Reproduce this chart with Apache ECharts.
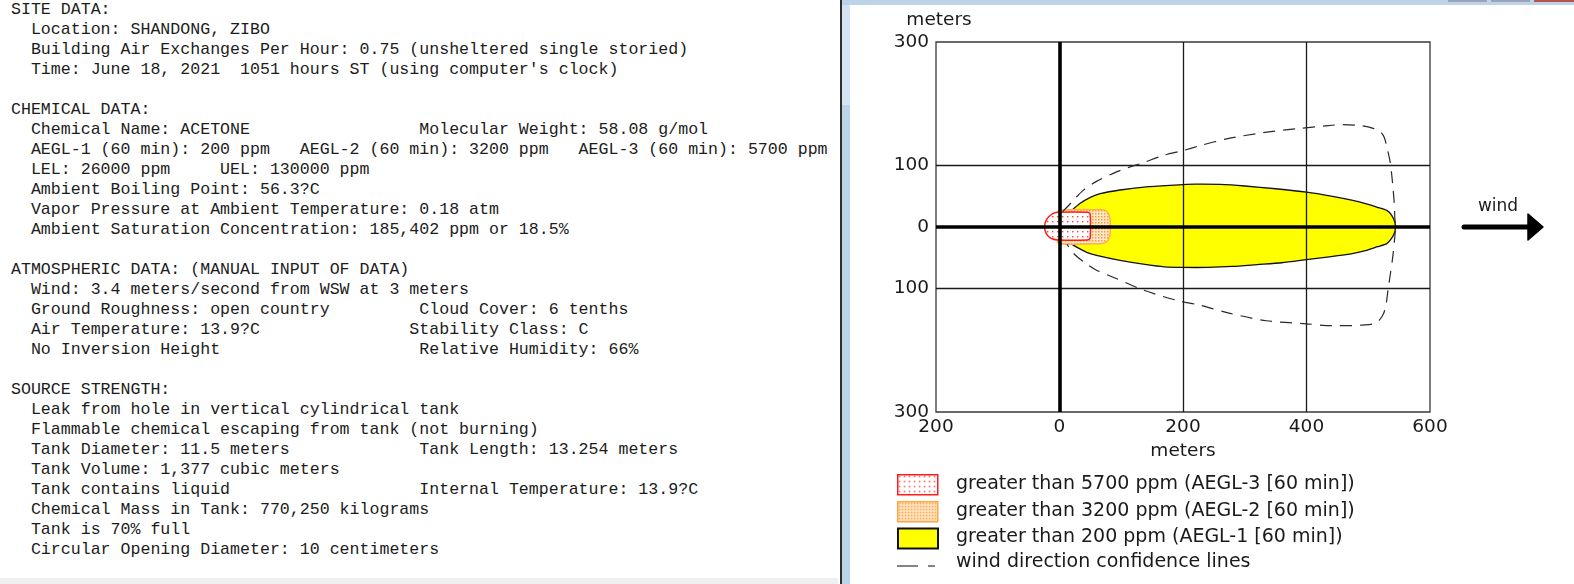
<!DOCTYPE html>
<html><head><meta charset="utf-8">
<script src="https://cdn.jsdelivr.net/npm/echarts@6/dist/echarts.min.js"></script>
<style>
html,body{margin:0;padding:0;width:1574px;height:584px;overflow:hidden;background:#fff;}
#left{position:absolute;left:0;top:0;width:840px;height:584px;background:#fff;overflow:hidden;}
#left pre{position:absolute;left:11px;top:-0.5px;margin:0;font-family:'Liberation Mono','Courier New',monospace;font-size:16.6px;line-height:20px;color:#1c1c1c;}
#lbot{position:absolute;left:0;top:578px;width:838px;height:6px;background:#f0f0f0;}
#divider{position:absolute;left:840px;top:0;width:2px;height:584px;background:#2e2e2e;}
#frameL{position:absolute;left:842px;top:0;width:8px;height:584px;background:#bcd3ea;}
#frameLt{position:absolute;left:842px;top:0;width:8px;height:105px;background:#d4e3f3;}
#frameT{position:absolute;left:842px;top:0;width:732px;height:5px;background:#bcd3ea;}
.btn{position:absolute;top:0;height:2px;}
#chart{position:absolute;left:851px;top:5px;width:723px;height:579px;}
</style></head>
<body>
<div id="left"><pre id="report"></pre><div id="lbot"></div></div>
<div id="divider"></div><div id="frameL"></div><div id="frameLt"></div><div id="frameT"></div>
<div class="btn" style="left:1448px;width:39px;background:#9aa5b3"></div>
<div class="btn" style="left:1491px;width:39px;background:#9aa5b3"></div>
<div class="btn" style="left:1534px;width:40px;background:#b5534c"></div>
<div id="chart"></div>
<script>
// ---------- report text ----------
const REPORT_LINES = [
 ['SITE DATA:'],
 ['  Location: SHANDONG, ZIBO'],
 ['  Building Air Exchanges Per Hour: 0.75 (unsheltered single storied)'],
 ["  Time: June 18, 2021  1051 hours ST (using computer's clock)"],
 [''],
 ['CHEMICAL DATA:'],
 ['  Chemical Name: ACETONE', 41, 'Molecular Weight: 58.08 g/mol'],
 ['  AEGL-1 (60 min): 200 ppm   AEGL-2 (60 min): 3200 ppm   AEGL-3 (60 min): 5700 ppm'],
 ['  LEL: 26000 ppm     UEL: 130000 ppm'],
 ['  Ambient Boiling Point: 56.3?C'],
 ['  Vapor Pressure at Ambient Temperature: 0.18 atm'],
 ['  Ambient Saturation Concentration: 185,402 ppm or 18.5%'],
 [''],
 ['ATMOSPHERIC DATA: (MANUAL INPUT OF DATA)'],
 ['  Wind: 3.4 meters/second from WSW at 3 meters'],
 ['  Ground Roughness: open country', 41, 'Cloud Cover: 6 tenths'],
 ['  Air Temperature: 13.9?C', 40, 'Stability Class: C'],
 ['  No Inversion Height', 41, 'Relative Humidity: 66%'],
 [''],
 ['SOURCE STRENGTH:'],
 ['  Leak from hole in vertical cylindrical tank'],
 ['  Flammable chemical escaping from tank (not burning)'],
 ['  Tank Diameter: 11.5 meters', 41, 'Tank Length: 13.254 meters'],
 ['  Tank Volume: 1,377 cubic meters'],
 ['  Tank contains liquid', 41, 'Internal Temperature: 13.9?C'],
 ['  Chemical Mass in Tank: 770,250 kilograms'],
 ['  Tank is 70% full'],
 ['  Circular Opening Diameter: 10 centimeters']
];
document.getElementById('report').textContent = REPORT_LINES.map(l =>
  l.length === 1 ? l[0] : l[0] + ' '.repeat(Math.max(1, l[1] - l[0].length)) + l[2]).join('\n');

// ---------- chart data (meters) ----------
const X_TICKS = [-200, 0, 200, 400, 600];
const Y_LABELED = [-300, -100, 0, 100, 300];
const GRID_X = [200, 400];
const GRID_Y = [100, -100];

const AEGL1_ZONE = [ // > 200 ppm
 [5,18],[17,25],[33,38],[50,48],[66,54],[98,60],[140,65],[179,67.5],[220,69.5],[260,69],[300,66.5],
 [350,62],[400,56.5],[440,50],[475,43],[497,37.5],[515,32],[530,27],[538,19],[543,8],[544,0],
 [543,-8],[538,-18],[530,-27],[515,-32],[497,-38],[470,-44],[440,-48],[400,-53],[360,-58],[320,-61],
 [280,-64],[240,-65.5],[200,-65.5],[170,-64.5],[141,-61],[98,-54],[60,-46],[44,-41],[25,-31],[10,-22],[5,-18]
];
const AEGL2_ZONE = [ // > 3200 ppm
 [0,27],[66,28],[75,26],[80,20],[82,10],[82,-10],[80,-19],[75,-25],[66,-27],[0,-27],[-4,-20],[-4,20]
];
const AEGL3_ZONE = [ // > 5700 ppm
 [-2,24],[45,24],[49,22],[50,15],[50,-14],[49,-19],[45,-21],[-2,-21],[-12,-19],[-19,-14],
 [-23,-7],[-24,2],[-22,10],[-17,17],[-10,22]
];
const CONFIDENCE_LINE = [
 [5,25],[14,34],[25,46],[38,59],[60,74],[87,87],[110,96],[135,104],[168,116],[200,124],[228,132],
 [271,143],[330,153],[390,160],[430,164],[459,166],[490,164],[508,160],[520,154],[526,145],
 [530,130],[535,108],[538,85],[540,64],[542,40],[543,16],[544,0],
 [543,-16],[540,-46],[536,-75],[532,-102],[529,-125],[525,-140],[518,-151],[508,-157],[490,-159],
 [476,-160],[440,-160],[400,-157],[335,-152],[276,-140],[228,-127],[190,-119],[135,-102],
 [93,-84],[60,-70],[44,-60],[25,-45],[12,-28]
];

// ---------- fill patterns ----------
function makePattern(size, bg, dot, ds) {
  const c = document.createElement('canvas'); c.width = size; c.height = size;
  const g = c.getContext('2d'); g.fillStyle = bg; g.fillRect(0,0,size,size);
  g.fillStyle = dot; g.fillRect(1,1,ds,ds);
  return { image: c, repeat: 'repeat' };
}
const RED_DOTS = makePattern(5, '#ffffff', '#ff4040', 1.4);
const ORANGE_DOTS = makePattern(3, '#ffe9cc', '#ff9933', 1.5);

const FONT = 'DejaVu Sans';
const TXT = '#1a1a1a';

function polySeries(name, data, fill, stroke, lw, z, smooth) {
  return {
    type: 'custom', name, coordinateSystem: 'cartesian2d', z, silent: true, data,
    encode: { x: 0, y: 1 },
    renderItem(params, api) {
      if (params.dataIndex !== 0) return null;
      const pts = data.map(p => api.coord(p));
      return { type: 'polygon', shape: { points: pts, smooth: smooth },
               style: { fill: fill, stroke: stroke, lineWidth: lw } };
    }
  };
}

const chart = echarts.init(document.getElementById('chart'), null, { renderer: 'canvas' });
const LEGEND = [
  { label: 'greater than 5700 ppm (AEGL-3 [60 min])', fill: RED_DOTS, stroke: '#ff1a1a', lw: 1.5 },
  { label: 'greater than 3200 ppm (AEGL-2 [60 min])', fill: ORANGE_DOTS, stroke: '#ffa640', lw: 1.5 },
  { label: 'greater than 200 ppm (AEGL-1 [60 min])', fill: '#ffff00', stroke: '#111', lw: 2 },
  { label: 'wind direction confidence lines' }
];
const LEG_Y = [479, 506, 532.5, 557];
const legendGraphics = [];
LEGEND.forEach((it, i) => {
  if (it.fill) {
    legendGraphics.push({ type: 'rect', left: 46, top: LEG_Y[i] - 10, shape: { width: 40, height: 20 },
      style: { fill: it.fill, stroke: it.stroke, lineWidth: it.lw } });
  } else {
    legendGraphics.push({ type: 'line', shape: { x1: 46, y1: LEG_Y[i] + 4, x2: 67, y2: LEG_Y[i] + 4 }, style: { stroke: '#333', lineWidth: 1.2 } });
    legendGraphics.push({ type: 'line', shape: { x1: 77, y1: LEG_Y[i] + 4, x2: 84, y2: LEG_Y[i] + 4 }, style: { stroke: '#333', lineWidth: 1.2 } });
  }
  legendGraphics.push({ type: 'text', x: 105, y: LEG_Y[i],
    style: { text: it.label, font: '19px "' + FONT + '"', fill: TXT, textVerticalAlign: 'middle', verticalAlign: 'middle' } });
});

const option = {
  animation: false,
  backgroundColor: '#ffffff',
  grid: { left: 85, top: 37, width: 494, height: 370, show: true, borderColor: '#383838', borderWidth: 1.3, containLabel: false },
  xAxis: {
    type: 'value', min: X_TICKS[0], max: X_TICKS[X_TICKS.length - 1], interval: 200,
    axisLine: { show: false, onZero: false }, axisTick: { show: false }, splitLine: { show: false },
    axisLabel: { formatter: v => String(Math.abs(v)), fontFamily: FONT, fontSize: 18.5, color: TXT, margin: 6, showMinLabel: true, showMaxLabel: true },
    name: 'meters', nameLocation: 'middle', nameGap: 26,
    nameTextStyle: { fontFamily: FONT, fontSize: 18.5, color: TXT }
  },
  yAxis: {
    type: 'value', min: -300, max: 300, interval: 100,
    axisLine: { show: false, onZero: false }, axisTick: { show: false }, splitLine: { show: false },
    axisLabel: { formatter: v => Y_LABELED.includes(v) ? String(Math.abs(v)) : '', fontFamily: FONT, fontSize: 18.5, color: TXT, margin: 7, showMinLabel: true, showMaxLabel: true }
  },
  series: [
    polySeries('AEGL-1', AEGL1_ZONE, '#ffff00', '#111111', 1.3, 2, 0.2),
    polySeries('AEGL-2', AEGL2_ZONE, ORANGE_DOTS, '#ffb050', 1.5, 3, 0.3),
    polySeries('AEGL-3', AEGL3_ZONE, RED_DOTS, '#ff1a1a', 1.5, 4, 0.3),
    {
      type: 'line', name: 'confidence', data: CONFIDENCE_LINE, symbol: 'none', showSymbol: false,
      smooth: 0.3, silent: true, z: 8,
      lineStyle: { color: '#2a2a2a', width: 1.2, type: [12, 8] },
      markLine: {
        silent: true, symbol: ['none', 'none'], label: { show: false }, animation: false,
        lineStyle: { type: 'solid' },
        data: [
          ...GRID_X.map(v => ({ xAxis: v, lineStyle: { color: '#1a1a1a', width: 1.3, type: 'solid' } })),
          ...GRID_Y.map(v => ({ yAxis: v, lineStyle: { color: '#1a1a1a', width: 1.3, type: 'solid' } })),
          { xAxis: 0, lineStyle: { color: '#000', width: 3.6, type: 'solid' } },
          { yAxis: 0, lineStyle: { color: '#000', width: 3.6, type: 'solid' } }
        ]
      }
    }
  ],
  graphic: [
    { type: 'text', x: 88, y: 15, style: { text: 'meters', font: '18.5px "' + FONT + '"', fill: TXT, textAlign: 'center', align: 'center', textVerticalAlign: 'middle', verticalAlign: 'middle' } },
    { type: 'text', x: 647, y: 202, style: { text: 'wind', font: '17px "' + FONT + '"', fill: TXT, textAlign: 'center', align: 'center', textVerticalAlign: 'middle', verticalAlign: 'middle' } },
    { type: 'line', shape: { x1: 613, y1: 222, x2: 680, y2: 222 }, style: { stroke: '#000', lineWidth: 5, lineCap: 'round' } },
    { type: 'polygon', shape: { points: [[677, 209], [692, 222], [677, 235]] }, style: { fill: '#000', stroke: '#000', lineWidth: 1.5, lineJoin: 'round' } },
    ...legendGraphics
  ]
};
chart.setOption(option);
</script>
</body></html>
